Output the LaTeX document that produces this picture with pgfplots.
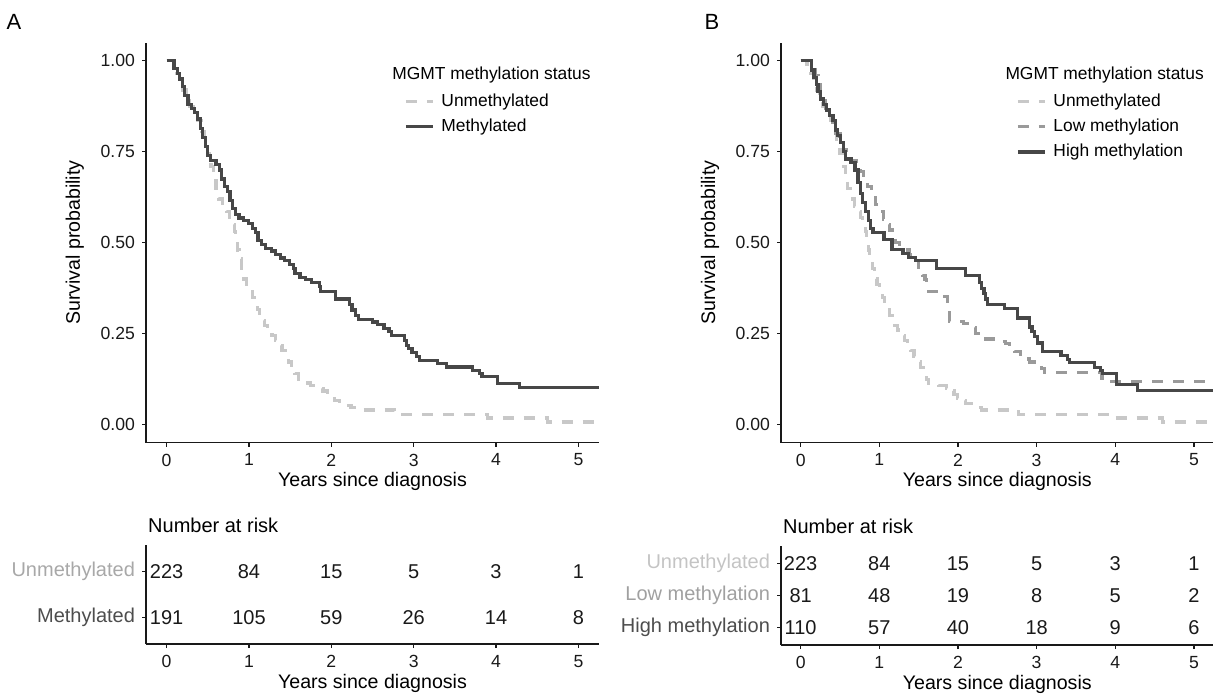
\documentclass[border=0pt]{standalone}
\usepackage{fontspec}
\setmainfont{Liberation Sans}
\usepackage{pgfplots}
\pgfplotsset{compat=1.18}
\definecolor{cUn}{HTML}{C8C8C8}
\definecolor{cLo}{HTML}{9A9A9A}
\definecolor{cHi}{HTML}{474747}
\definecolor{cUnLabA}{HTML}{A8A8A8}
\definecolor{cUnLabB}{HTML}{C4C4C4}
\definecolor{cLoLab}{HTML}{A0A0A0}
\definecolor{cHiLab}{HTML}{4D4D4D}
\pgfplotsset{
  base/.style={scale only axis, clip=false,
    axis x line*=bottom, axis y line*=left,
    axis line style={-, line width=0.6pt, black!90},
    tick align=outside, major tick length=2pt,
    tick style={line width=0.6pt, black!90},
    xmin=-0.25, xmax=5.25, xtick={0,1,2,3,4,5},
    ticklabel style={font=\fontsize{8.8}{10}\selectfont, text=black!90},
    /pgf/number format/assume math mode=true,
    label style={font=\fontsize{9.8}{11}\selectfont},
  },
  km/.style={base, ymin=-0.05, ymax=1.05, ytick={0,0.25,0.5,0.75,1},
    yticklabel style={/pgf/number format/.cd, fixed, fixed zerofill, precision=2},
    xlabel={Years since diagnosis}, ylabel={Survival probability},
    xlabel style={at={(axis description cs:0.5,-0.096)}, anchor=center},
    legend style={draw=none, fill=none, font=\fontsize{8.7}{10}\selectfont,
      row sep=4.5pt, nodes={inner sep=0pt, text height=6.3pt, text depth=1.8pt},
      /tikz/column sep=3.5pt},
    legend cell align=left,
    legend image code/.code={\draw[##1] (0pt,0pt) -- (13.5pt,0pt);},
  },
  risk/.style={base, xlabel={Years since diagnosis},
    xlabel style={at={(axis description cs:0.5,-0.394)}, anchor=center},
    yticklabel style={font=\fontsize{10}{12}\selectfont},
  },
  un/.style={cUn, line width=1.6pt, dash pattern=on 5.5pt off 5pt},
  lo/.style={cLo, line width=1.6pt, dash pattern=on 5.5pt off 5pt},
  hi/.style={cHi, line width=1.6pt},
  nums/.style={draw=none, nodes near coords, point meta=explicit symbolic,
    every node near coord/.append style={anchor=center, font=\fontsize{10}{12}\selectfont, text=black!90}},
}
\begin{document}
\begin{tikzpicture}
\useasboundingbox (0,0) rectangle (606.5pt,348pt);
\node[font=\fontsize{11}{13}\selectfont] at (7pt,337pt) {A};
\node[font=\fontsize{11}{13}\selectfont] at (356pt,337pt) {B};
% ---------------- Panel A main
\begin{axis}[km, at={(73pt,126.65pt)}, anchor=south west, width=226.5pt, height=200pt,
  ylabel style={at={(axis description cs:-0.157,0.5)}, anchor=center},
  legend style={at={(0.556,0.884)}, anchor=north west}]
\addplot[un, const plot] coordinates {
(0,1.0) (0.08,0.98) (0.12,0.965) (0.16,0.945) (0.20,0.92) (0.24,0.89) (0.28,0.875) (0.33,0.86)
(0.38,0.835) (0.42,0.805) (0.46,0.775) (0.50,0.745) (0.54,0.71) (0.57,0.68) (0.60,0.65) (0.63,0.62)
(0.68,0.60) (0.73,0.585) (0.76,0.57) (0.79,0.55) (0.82,0.53) (0.84,0.505) (0.86,0.48) (0.88,0.455)
(0.91,0.43) (0.94,0.40) (0.97,0.385) (1.00,0.37) (1.04,0.35) (1.07,0.333) (1.10,0.316) (1.13,0.30)
(1.16,0.285) (1.19,0.272) (1.23,0.26) (1.28,0.245) (1.32,0.232) (1.36,0.218) (1.40,0.203) (1.44,0.188)
(1.48,0.172) (1.52,0.156) (1.56,0.14) (1.60,0.124) (1.63,0.114) (1.75,0.108) (1.85,0.10) (1.90,0.092)
(1.95,0.082) (1.99,0.072) (2.04,0.065) (2.10,0.058) (2.17,0.052) (2.24,0.046) (2.30,0.040) (2.77,0.028)
(3.90,0.018) (4.62,0.007) (5.25,0.007)};
\addlegendentry{Unmethylated}
\addplot[hi, const plot] coordinates {
(0,1.0) (0.09,0.98) (0.13,0.965) (0.16,0.95) (0.19,0.93) (0.22,0.905) (0.26,0.88) (0.30,0.868)
(0.34,0.858) (0.38,0.84) (0.41,0.815) (0.44,0.79) (0.47,0.765) (0.50,0.74) (0.53,0.725) (0.60,0.715)
(0.64,0.70) (0.67,0.675) (0.70,0.655) (0.74,0.64) (0.77,0.615) (0.80,0.595) (0.84,0.578) (0.88,0.568)
(0.93,0.56) (0.99,0.553) (1.04,0.54) (1.08,0.527) (1.11,0.507) (1.15,0.495) (1.20,0.485) (1.27,0.477)
(1.32,0.468) (1.38,0.458) (1.43,0.45) (1.49,0.44) (1.54,0.43) (1.56,0.415) (1.62,0.405) (1.69,0.398)
(1.76,0.391) (1.86,0.38) (1.87,0.365) (2.05,0.345) (2.22,0.33) (2.25,0.315) (2.29,0.30) (2.33,0.288)
(2.50,0.282) (2.56,0.276) (2.64,0.265) (2.70,0.255) (2.73,0.245) (2.89,0.232) (2.91,0.218) (2.94,0.208)
(2.98,0.198) (3.03,0.187) (3.07,0.177) (3.29,0.168) (3.40,0.158) (3.71,0.149) (3.80,0.14) (3.83,0.132)
(4.02,0.113) (4.28,0.101) (5.25,0.101)};
\addlegendentry{Methylated}
\node[anchor=west, font=\fontsize{8.7}{10}\selectfont, inner sep=0pt] at (rel axis cs:0.543,0.919) {MGMT methylation status};
\end{axis}
% ---------------- Panel A risk table
\begin{axis}[risk, at={(73pt,26pt)}, anchor=south west, width=226.5pt, height=49.5pt,
  ymin=0.415, ymax=2.585, ytick={1,2},
  yticklabels={\textcolor{cHiLab}{Methylated}, \textcolor{cUnLabA}{Unmethylated}}]
\addplot[nums] coordinates {(0,2) [223] (1,2) [84] (2,2) [15] (3,2) [5] (4,2) [3] (5,2) [1]};
\addplot[nums] coordinates {(0,1) [191] (1,1) [105] (2,1) [59] (3,1) [26] (4,1) [14] (5,1) [8]};
\node[anchor=west, font=\fontsize{10}{12}\selectfont, inner sep=0pt] at (rel axis cs:0.004,1.202) {Number at risk};
\end{axis}
% ---------------- Panel B main
\begin{axis}[km, at={(390.5pt,126.65pt)}, anchor=south west, width=216.3pt, height=200pt,
  ylabel style={at={(axis description cs:-0.164,0.5)}, anchor=center},
  legend style={at={(0.529,0.884)}, anchor=north west}]
\addplot[un, const plot] coordinates {
(0,1.0) (0.08,0.98) (0.12,0.965) (0.16,0.945) (0.20,0.92) (0.24,0.89) (0.28,0.875) (0.33,0.86)
(0.38,0.835) (0.42,0.805) (0.46,0.775) (0.50,0.745) (0.54,0.71) (0.57,0.68) (0.60,0.65) (0.63,0.62)
(0.68,0.60) (0.73,0.585) (0.76,0.57) (0.79,0.55) (0.82,0.53) (0.84,0.505) (0.86,0.48) (0.88,0.455)
(0.91,0.43) (0.94,0.40) (0.97,0.385) (1.00,0.37) (1.04,0.35) (1.07,0.333) (1.10,0.316) (1.13,0.30)
(1.16,0.285) (1.19,0.272) (1.23,0.26) (1.28,0.245) (1.32,0.232) (1.36,0.218) (1.40,0.203) (1.44,0.188)
(1.48,0.172) (1.52,0.156) (1.56,0.14) (1.60,0.124) (1.63,0.114) (1.75,0.108) (1.85,0.10) (1.90,0.092)
(1.95,0.082) (1.99,0.072) (2.04,0.065) (2.10,0.058) (2.17,0.052) (2.24,0.046) (2.30,0.040) (2.77,0.028)
(3.90,0.018) (4.60,0.007) (5.25,0.007)};
\addlegendentry{Unmethylated}
\addplot[lo, const plot] coordinates {
(0,1.0) (0.16,0.975) (0.19,0.96) (0.22,0.935) (0.25,0.91) (0.28,0.89) (0.32,0.87) (0.36,0.85)
(0.41,0.825) (0.45,0.80) (0.50,0.775) (0.54,0.755) (0.58,0.735) (0.64,0.725) (0.71,0.715) (0.76,0.695)
(0.80,0.675) (0.85,0.655) (0.90,0.63) (0.95,0.605) (0.99,0.585) (1.05,0.565) (1.09,0.55) (1.13,0.535)
(1.17,0.52) (1.21,0.50) (1.26,0.48) (1.38,0.467) (1.45,0.45) (1.50,0.425) (1.55,0.41) (1.58,0.398)
(1.60,0.366) (1.75,0.36) (1.80,0.352) (1.87,0.334) (1.89,0.284) (2.07,0.278) (2.17,0.266) (2.22,0.25)
(2.28,0.235) (2.53,0.228) (2.60,0.222) (2.66,0.215) (2.72,0.20) (2.79,0.18) (2.91,0.172) (3.02,0.165)
(3.06,0.155) (3.10,0.144) (3.83,0.119) (5.25,0.119)};
\addlegendentry{Low methylation}
\addplot[hi, const plot] coordinates {
(0,1.0) (0.14,0.975) (0.17,0.955) (0.20,0.935) (0.22,0.915) (0.25,0.895) (0.29,0.88) (0.33,0.865)
(0.37,0.85) (0.41,0.835) (0.44,0.81) (0.47,0.795) (0.51,0.775) (0.54,0.75) (0.57,0.73) (0.64,0.72)
(0.69,0.70) (0.73,0.665) (0.76,0.635) (0.79,0.61) (0.82,0.585) (0.86,0.56) (0.89,0.54) (0.92,0.528)
(1.06,0.508) (1.16,0.482) (1.30,0.47) (1.37,0.46) (1.46,0.45) (1.73,0.43) (2.10,0.409) (2.27,0.39)
(2.30,0.375) (2.33,0.36) (2.35,0.345) (2.38,0.33) (2.59,0.318) (2.76,0.293) (2.91,0.268) (2.94,0.255)
(2.97,0.243) (3.01,0.224) (3.07,0.201) (3.31,0.19) (3.39,0.178) (3.42,0.171) (3.74,0.157) (3.81,0.148)
(3.84,0.14) (4.02,0.11) (4.28,0.094) (5.25,0.094)};
\addlegendentry{High methylation}
\node[anchor=west, font=\fontsize{8.7}{10}\selectfont, inner sep=0pt] at (rel axis cs:0.518,0.919) {MGMT methylation status};
\end{axis}
% ---------------- Panel B risk table
\begin{axis}[risk, at={(390.5pt,25.5pt)}, anchor=south west, width=216.3pt, height=49.5pt,
  ymin=0.44, ymax=3.56, ytick={1,2,3},
  yticklabels={\textcolor{cHiLab}{High methylation}, \textcolor{cLoLab}{Low methylation}, \textcolor{cUnLabB}{Unmethylated}}]
\addplot[nums] coordinates {(0,3) [223] (1,3) [84] (2,3) [15] (3,3) [5] (4,3) [3] (5,3) [1]};
\addplot[nums] coordinates {(0,2) [81] (1,2) [48] (2,2) [19] (3,2) [8] (4,2) [5] (5,2) [2]};
\addplot[nums] coordinates {(0,1) [110] (1,1) [57] (2,1) [40] (3,1) [18] (4,1) [9] (5,1) [6]};
\node[anchor=west, font=\fontsize{10}{12}\selectfont, inner sep=0pt] at (rel axis cs:0.004,1.202) {Number at risk};
\end{axis}
\end{tikzpicture}
\end{document}
